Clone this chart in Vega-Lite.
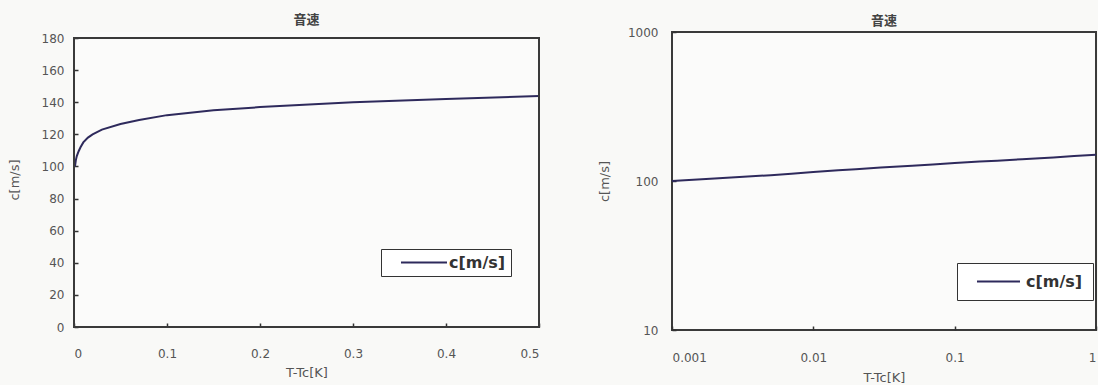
{
  "$schema": "https://vega.github.io/schema/vega-lite/v6.json",
  "background": "#f9f9f7",
  "padding": {"left": 8, "top": 14, "right": 0, "bottom": 0},
  "spacing": 54,
  "config": {
    "font": "DejaVu Sans",
    "view": {"stroke": "#3a3a3a", "strokeWidth": 2, "fill": "#fbfbfa"},
    "axis": {
      "grid": false,
      "domain": false,
      "ticks": true,
      "tickSize": -4,
      "tickColor": "#333",
      "tickWidth": 1.5,
      "labelFont": "DejaVu Sans",
      "labelFontSize": 12,
      "labelColor": "#555",
      "labelOverlap": false,
      "titleFont": "DejaVu Sans",
      "titleFontSize": 13,
      "titleFontWeight": "normal",
      "titleColor": "#555"
    },
    "title": {"font": "Noto Sans CJK JP", "fontSize": 13, "fontWeight": "bold", "color": "#444", "anchor": "middle", "offset": 0, "dy": 6},
    "legend": {
      "title": null,
      "symbolSize": 225,
      "symbolStrokeWidth": 2,
      "labelFont": "DejaVu Sans",
      "labelFontSize": 16,
      "labelFontWeight": "bold",
      "labelColor": "#333",
      "strokeColor": "#333",
      "fillColor": "#ffffff"
    }
  },
  "datasets": {
    "sound": [
      {"t": 0.001, "c": 100},
      {"t": 0.002, "c": 104},
      {"t": 0.003, "c": 106.5},
      {"t": 0.005, "c": 109.5},
      {"t": 0.007, "c": 112},
      {"t": 0.01, "c": 115},
      {"t": 0.015, "c": 118},
      {"t": 0.02, "c": 120},
      {"t": 0.03, "c": 123},
      {"t": 0.05, "c": 126.5},
      {"t": 0.07, "c": 129},
      {"t": 0.1, "c": 132},
      {"t": 0.15, "c": 135},
      {"t": 0.2, "c": 137},
      {"t": 0.3, "c": 140},
      {"t": 0.4, "c": 142},
      {"t": 0.5, "c": 144},
      {"t": 0.7, "c": 147},
      {"t": 1.0, "c": 150}
    ]
  },
  "hconcat": [
    {
      "width": 465,
      "height": 295,
      "title": {"text": "音速", "dy": -1},
      "view": {"stroke": null},
      "layer": [
        {
          "data": {"name": "sound"},
          "transform": [{"filter": "datum.t <= 0.5"}],
          "mark": {"type": "line", "strokeWidth": 2},
          "encoding": {
            "x": {
              "field": "t", "type": "quantitative",
              "scale": {"domain": [0, 0.5], "nice": false, "zero": false},
              "axis": {"values": [0, 0.1, 0.2, 0.3, 0.4, 0.5], "format": "~g", "title": "T-Tc[K]", "labelPadding": 25, "titlePadding": 7}
            },
            "y": {
              "field": "c", "type": "quantitative",
              "scale": {"domain": [0, 183.8], "nice": false},
              "axis": {"values": [0, 20, 40, 60, 80, 100, 120, 140, 160, 180], "title": "c[m/s]", "labelPadding": 14, "titlePadding": 20}
            },
            "color": {
              "datum": "c[m/s]",
              "scale": {"range": ["#2e2a5c"]},
              "legend": {"orient": "none", "legendX": 307, "legendY": 217, "padding": 5, "symbolType": "M-3.067,0H3.067", "symbolOffset": 29.5, "labelOffset": 16.5}
            }
          }
        },
        {
          "data": {"values": [{}]},
          "mark": {"type": "rect", "filled": false, "stroke": "#3a3a3a", "strokeWidth": 2},
          "encoding": {
            "x": {"datum": 0, "type": "quantitative", "axis": null},
            "x2": {"datum": 0.5},
            "y": {"datum": 0, "type": "quantitative", "axis": null},
            "y2": {"datum": 180}
          }
        }
      ],
      "resolve": {"axis": {"x": "independent", "y": "independent"}}
    },
    {
      "width": 424,
      "height": 298,
      "title": {"text": "音速"},
      "data": {"name": "sound"},
      "mark": {"type": "line", "strokeWidth": 2},
      "encoding": {
        "x": {
          "field": "t", "type": "quantitative",
          "scale": {"type": "log", "domain": [0.001, 1], "nice": false},
          "axis": {"values": [0.001, 0.01, 0.1, 1], "format": "~g", "title": "T-Tc[K]", "labelPadding": 26, "titlePadding": 8}
        },
        "y": {
          "field": "c", "type": "quantitative",
          "scale": {"type": "log", "domain": [10, 1000], "nice": false},
          "axis": {"values": [10, 100, 1000], "format": "d", "title": "c[m/s]", "labelPadding": 18, "titlePadding": 16}
        },
        "color": {
          "datum": "c[m/s]",
          "scale": {"range": ["#2e2a5c"]},
          "legend": {"orient": "none", "legendX": 285, "legendY": 231, "padding": 10, "symbolType": "M-2.867,0H2.867", "symbolOffset": 23, "labelOffset": 19}
        }
      }
    }
  ],
  "resolve": {"scale": {"color": "independent"}, "legend": {"color": "independent"}}
}
